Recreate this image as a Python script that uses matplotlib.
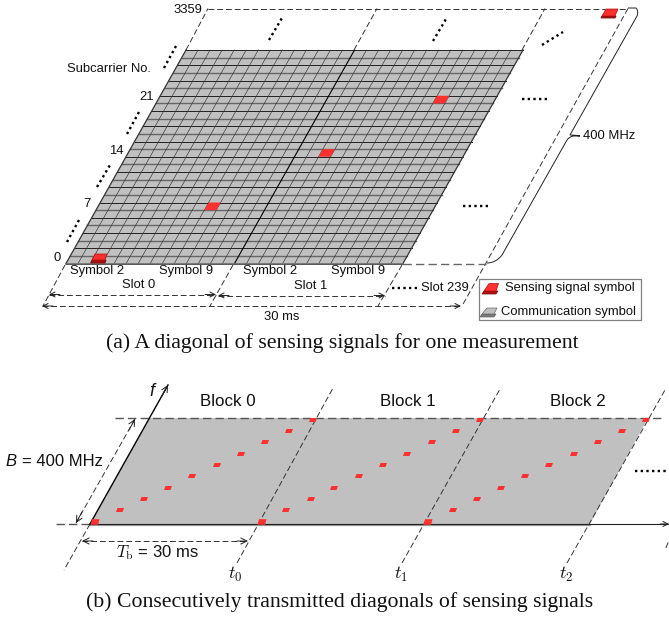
import matplotlib
matplotlib.use('Agg')
import matplotlib.pyplot as plt
from matplotlib.patches import Polygon, Rectangle, PathPatch
from matplotlib.path import Path

plt.rcParams['font.family'] = ['Liberation Sans', 'DejaVu Sans']
plt.rcParams['mathtext.fontset'] = 'cm'

# top grid: 28 subcarriers x 28 symbols
n_rows = 28
n_cols = 28
sensing_cells = [(7, 9), (14, 16), (21, 23)]

subcarrier_labels = ['0', '7', '14', '21', '3359']
subcarrier_x = [61, 91, 124, 154, 202]
subcarrier_y = [258, 204, 151, 97, 10]

symbol_labels = ['Symbol 2', 'Symbol 9', 'Symbol 2', 'Symbol 9']
symbol_x = [97, 186, 270, 358]

# lower panel, sensing marks read per block (pixel position on the page)
mark_y = [522, 510, 499, 488, 476, 465, 454, 442, 431, 420]
block0_x = [95, 120, 144, 168, 192, 217, 241, 265, 289, 313]
block1_x = [262, 286, 311, 334, 359, 383, 407, 432, 456, 480]
block2_x = [428, 453, 477, 501, 525, 549, 574, 598, 622, 646]
block_labels = ['Block 0', 'Block 1', 'Block 2']
block_label_x = [228, 408, 578]
time_labels = ['$t_0$', '$t_1$', '$t_2$']
time_label_x = [235, 401, 566]

RED = '#ff3030'
GREY = '#c0c0c0'

fig = plt.figure(figsize=(6.69, 6.18), dpi=100)
ax = fig.add_axes([0, 0, 1, 1])
ax.set_xlim(0, 669)
ax.set_ylim(618, 0)
ax.axis('off')

# corners of the grid
x0, y0 = 66, 263.5
x1 = 403
top_y = 50
shift = 120
row_h = (y0 - top_y) / n_rows
col_w = (x1 - x0) / n_cols
row_dx = shift / n_rows


def cell(r, c):
    xl = x0 + c * col_w + r * row_dx
    yb = y0 - r * row_h
    return [(xl, yb), (xl + col_w, yb), (xl + col_w + row_dx, yb - row_h), (xl + row_dx, yb - row_h)]


def dash(xs, ys, lw=0.7, color='#333333'):
    ax.plot(xs, ys, color=color, lw=lw, ls=(0, (6, 3)), zorder=2)


def dots(xs, ys):
    ax.plot(xs, ys, color='black', lw=1.7, ls=(0, (1, 1.4)), zorder=2)


def head(x_from, y_from, x_to, y_to, size=9):
    ax.annotate('', xy=(x_to, y_to), xytext=(x_from, y_from),
                arrowprops=dict(arrowstyle='->', color='#222222', lw=0.7, shrinkA=0, shrinkB=0,
                                mutation_scale=size), zorder=3)


def text(x, y, s, size=9.4, ha='center', **kw):
    ax.text(x, y, s, fontsize=size, ha=ha, va='center', color='#111111', zorder=6, **kw)


ax.add_patch(Polygon([(x0, y0), (x1, y0), (x1 + shift, top_y), (x0 + shift, top_y)], fc=GREY, ec='none', zorder=1))

# grid lines
for r in range(n_rows + 1):
    y = y0 - r * row_h
    xl = x0 + r * row_dx
    col = '#222222' if r % 2 == 0 else '#666666'
    ax.plot([xl, xl + (x1 - x0)], [y, y], color=col, lw=0.7 if r % 2 == 0 else 1.0, zorder=2)
for c in range(n_cols + 1):
    xb = x0 + c * col_w
    lw = 0.45
    col = '#333333'
    if c == 14:
        lw = 0.8
        col = 'black'
    if c == 0 or c == n_cols:
        lw = 0.9
    ax.plot([xb, xb + shift], [y0, top_y], color=col, lw=lw, zorder=2)
ax.plot([x0, x1], [y0 + 0.5, y0 + 0.5], color='#666666', lw=1.2, zorder=2)

for r, c in sensing_cells:
    ax.add_patch(Polygon(cell(r, c), fc=RED, ec='none', zorder=3))

# the two raised cells
ax.add_patch(Polygon([(91, 263), (105, 263), (106, 260), (92, 260)], fc='#b01010', ec='#7a0a0a', lw=0.6, zorder=4))
ax.add_patch(Polygon([(92, 260), (105, 260), (107, 254), (95, 254)], fc=RED, ec='#b01010', lw=0.5, zorder=4))
ax.add_patch(Polygon([(601, 18), (615, 18), (616, 16), (602, 16)], fc='#b01010', ec='#7a0a0a', lw=0.6, zorder=4))
ax.add_patch(Polygon([(602, 16), (615, 16), (618, 9), (606, 9)], fc=RED, ec='#b01010', lw=0.5, zorder=4))

# dashed outline of the whole block
dash([208, 628], [8.5, 8.5])
dash([186, 208], [50, 8.5])
dash([354, 377], [50, 8.5])
dash([522, 545], [50, 8.5])
dash([628, 462], [8.5, 306])
dash([403, 486], [263.5, 263.5], lw=1.0, color='#666666')
dash([65, 43], [265, 306])
dash([233, 210], [265, 306])
dash([402, 378], [265, 306])

# brace
verts = [(487, 263), (496, 263), (502, 255), (567, 140), (570, 136), (574, 136), (580, 136),
         (575, 135), (570, 135), (637, 16), (639, 11), (636, 8), (628, 8)]
codes = [Path.MOVETO, Path.CURVE3, Path.CURVE3, Path.LINETO, Path.CURVE3, Path.CURVE3, Path.LINETO,
         Path.CURVE3, Path.CURVE3, Path.LINETO, Path.CURVE3, Path.CURVE3, Path.LINETO]
ax.add_patch(PathPatch(Path(verts, codes), fc='none', ec='#222222', lw=0.7, zorder=2))

# span arrows
dash([49, 216], [294.5, 294.5])
head(60, 294.5, 49, 294.5)
head(205, 294.5, 216, 294.5)
dash([218, 385], [295.5, 295.5])
head(229, 295.5, 218, 295.5)
head(374, 295.5, 385, 295.5)
dash([42, 461], [306, 306])
head(53, 306, 42, 306)
head(450, 306, 461, 306)

# ellipses
dots([164, 176], [68, 46])
dots([127, 139], [134, 112])
dots([97, 110], [187, 165])
dots([67, 79], [242, 220])
dots([269, 282], [40, 18])
dots([433, 446], [41, 19])
dots([542, 563], [45, 32])
dots([522, 547], [99, 99])
dots([463, 488], [206, 206])
dots([392, 417], [288, 288])

# labels of the top panel
for lab, x, y in zip(subcarrier_labels, subcarrier_x, subcarrier_y):
    text(x, y, lab, ha='right')
text(109, 69, 'Subcarrier No.')
for lab, x in zip(symbol_labels, symbol_x):
    text(x, 271, lab)
text(139, 285, 'Slot 0')
text(311, 286, 'Slot 1')
text(445, 288, 'Slot 239')
text(282, 317, '30 ms')
text(609, 136, '400 MHz')

# legend
ax.add_patch(Rectangle((479, 279), 162, 41, fc='white', ec='#808080', lw=0.9, zorder=4))
ax.add_patch(Polygon([(482, 294), (496, 294), (498, 291), (484, 291)], fc='#b01010', ec='#7a0a0a', lw=0.5, zorder=5))
ax.add_patch(Polygon([(484, 291), (496, 291), (498.5, 283.5), (489, 283.5)], fc=RED, ec='#b01010', lw=0.5, zorder=5))
ax.add_patch(Polygon([(480, 317), (494, 317), (496, 314), (482, 314)], fc='#7a7a7a', ec='#666666', lw=0.5, zorder=5))
ax.add_patch(Polygon([(482, 314), (494, 314), (497, 308), (487, 308)], fc=GREY, ec='#666666', lw=0.5, zorder=5))
text(505, 288.5, 'Sensing signal symbol', ha='left')
text(501, 312.5, 'Communication symbol', ha='left')

ax.text(342, 343, '(a) A diagonal of sensing signals for one measurement', fontsize=15.7,
        family='Liberation Serif', ha='center', va='center', color='#111111')

# lower panel
bx0, bx1 = 90, 590
by_bot, by_top = 524, 418
ax.add_patch(Polygon([(bx0, by_bot), (bx1, by_bot), (648, by_top), (150, by_top)], fc=GREY, ec='none', zorder=1))
ax.plot([bx0, bx1], [by_bot + 0.5, by_bot + 0.5], color='#9a9a9a', lw=1.6, zorder=2)
ax.plot([bx0, 669], [by_bot, by_bot], color='#222222', lw=0.8, zorder=2)
head(660, by_bot, 669, by_bot)
dash([115, 665], [by_top, by_top], lw=1.0, color='#555555')
dash([56, 90], [by_bot, by_bot], lw=1.0, color='#555555')
ax.plot([bx0, 168], [by_bot, 385], color='black', lw=1.0, zorder=3)
head(161, 397.5, 168, 385, size=11)
dash([90, 64], [524, 570])
dash([237, 333], [563, 388])
dash([402, 500], [563, 389])
dash([567, 665], [563, 390])
dash([666, 669], [548, 540])

for xs in [block0_x, block1_x, block2_x]:
    for i, (x, y) in enumerate(zip(xs, mark_y)):
        w = 4.0 if i > 0 else 4.5
        h = 2.0 if i > 0 else 2.8
        ax.add_patch(Polygon([(x - w, y + h), (x + w - 1.5, y + h), (x + w, y - h), (x - w + 1.5, y - h)],
                             fc=RED, ec='none', zorder=4))

# bandwidth and block length arrows
dash([76, 135], [523, 419])
head(82, 512, 76, 523, size=11)
head(129, 430, 135, 419, size=11)
dash([82, 248], [541, 541])
head(93, 541, 82, 541, size=11)
head(237, 541, 248, 541, size=11)

text(5, 462, 'B', size=12, ha='left', style='italic')
text(22, 462, '= 400 MHz', size=12, ha='left')
text(152, 392, 'f', size=13, style='italic')
text(157, 553, '$T_{\\mathrm{b}}$ = 30 ms', size=12)
for lab, x in zip(block_labels, block_label_x):
    text(x, 401, lab, size=12.2)
for lab, x in zip(time_labels, time_label_x):
    text(x, 574, lab, size=13)
dots([635, 669], [471, 471])

ax.text(340, 602, '(b) Consecutively transmitted diagonals of sensing signals', fontsize=15.7,
        family='Liberation Serif', ha='center', va='center', color='#111111')

fig.savefig('out.png', dpi=100)
